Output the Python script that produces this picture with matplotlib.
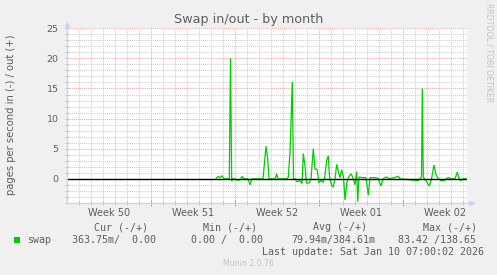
import matplotlib
matplotlib.use("Agg")
import matplotlib.pyplot as plt
import matplotlib.dates as mdates
from matplotlib.ticker import MultipleLocator, NullFormatter
from matplotlib.patches import Rectangle
from matplotlib.transforms import blended_transform_factory
from datetime import datetime, timedelta

# ---------------- data ----------------
title = "Swap in/out - by month"
y_label = "pages per second in (-) / out (+)"
series_name = "swap"
start_time = datetime(2025, 12, 8, 0, 20)
span_hours = 800

# hours since start_time, signed value: out (+) / in (-)
swap_hours = [298, 302, 306, 310, 314,
              322, 324.6, 327, 329.4, 331, 334,
              340, 346, 350, 354,
              362, 366, 370,
              392, 398, 401, 404,
              416, 419.4, 422,
              440, 442.6, 446, 450.6, 453,
              456, 460, 466, 470,
              472.6, 476, 479, 484, 488,
              492.6, 496, 500, 504, 508, 512, 515,
              519.4, 522.6, 525, 529, 532, 536,
              539.4, 543, 546, 549.4, 553,
              556, 560, 564, 568, 572, 576, 579.4, 581.4, 584,
              590, 598, 602.6, 606, 614, 622, 628, 632, 638, 646,
              662.6, 666,
              702, 706, 709, 710.6, 712.6, 715, 719.4, 724.6, 729,
              734, 737.4, 742, 748, 754, 758, 762.6, 768, 776,
              780.6, 784, 787.4, 792, 798]
swap_values = [0, 0.4, 0.2, 0.5, 0,
               0, 0, 20.1, -0.4, 0, 0,
               -0.2, -0.2, 0.4, 0,
               0, -1.0, 0,
               0, 5.4, 3.6, 0,
               0, 0.8, 0,
               0, 0.3, 4.3, 16.1, 0,
               0, -0.5, -0.3, -0.8,
               4.2, 2.1, -0.7, -0.7, 0,
               5.0, 1.6, 1.6, -0.7, -0.2, -0.6, 0,
               3.1, 3.8, 0.4, -1.0, -1.4, 0,
               2.4, 1.1, 0.2, 1.5, 0.3,
               -3.5, -0.5, 0.4, 0.8, 0.2, -1.0, 1.2, -3.8, 0.3,
               0.2, 0.2, -2.7, 0.2, 0.2, 0.1, -1.2, 0, 0.3, 0,
               0.4, 0,
               -0.3, 0, 0.3, 15.0, 0.3, 0, -0.5, -1.2, 0,
               2.3, 0.8, 0.1, -0.3, -0.3, 0, 0.2, 0, 0,
               1.1, 0.1, -0.3, 0, 0]

week_mondays = ["2025-12-08", "2025-12-15", "2025-12-22", "2025-12-29", "2026-01-05"]
week_labels = ["Week 50", "Week 51", "Week 52", "Week 01", "Week 02"]
y_ticks = [0, 5, 10, 15, 20, 25]

stat_headers = ["Cur (-/+)", "Min (-/+)", "Avg (-/+)", "Max (-/+)"]
stat_values = ["363.75m/  0.00", "0.00 /  0.00", "79.94m/384.61m", "83.42 /138.65"]
last_update = "Last update: Sat Jan 10 07:00:02 2026"
footer = "Munin 2.0.76"
watermark = "RRDTOOL / TOBI OETIKER"

# ---------------- style ----------------
W, H = 497, 275
BG = "#F0F0F0"
FONT_C = "#5E5E5E"
AXIS_C = "#C8D0F8"
GRID_C = "#CCCCCC"
MGRID_C = "#EEA8A8"
LINE_C = "#00CC00"

fig = plt.figure(figsize=(W / 100, H / 100), dpi=100, facecolor=BG)
L, R, T, B = 67, 467, 28.3, 203.3
ax = fig.add_axes([L / W, 1 - B / H, (R - L) / W, (B - T) / H])
ax.set_facecolor("white")

x0 = mdates.date2num(start_time)
x1 = mdates.date2num(start_time + timedelta(hours=span_hours))
xs = [mdates.date2num(start_time + timedelta(hours=h)) for h in swap_hours]

ax.plot(xs, swap_values, color=LINE_C, lw=0.9, zorder=3, solid_joinstyle="miter")
ax.axhline(0, color="black", lw=1.0, zorder=4)

ax.set_xlim(x0, x1)
ax.set_ylim(-4.07, 25)

# grid
ax.xaxis.set_major_locator(mdates.WeekdayLocator(byweekday=mdates.MO))
ax.xaxis.set_minor_locator(mdates.DayLocator())
ax.xaxis.set_major_formatter(NullFormatter())
ax.yaxis.set_major_locator(MultipleLocator(5))
ax.yaxis.set_minor_locator(MultipleLocator(1))
ax.set_yticks(y_ticks)
ax.set_yticklabels([str(v) for v in y_ticks])
ax.grid(which="minor", color=GRID_C, linestyle=(0, (1, 1)), lw=0.75, zorder=1)
ax.grid(which="major", color=MGRID_C, linestyle=(0, (1, 1)), lw=0.75, zorder=1)
ax.set_axisbelow(True)

ax.tick_params(axis="x", which="major", direction="inout", length=4, width=0.75,
               color="#E89090")
ax.tick_params(axis="x", which="minor", direction="inout", length=3, width=0.75,
               color="#C0C0C0")
ax.tick_params(axis="y", which="major", direction="inout", length=3, width=0.75,
               color="#C0C0C0", labelsize=6.8, labelcolor=FONT_C, pad=4.5)
ax.tick_params(axis="y", which="minor", direction="inout", length=3, width=0.75,
               color="#C0C0C0")
for sp in ax.spines.values():
    sp.set_visible(False)

# axis lines with arrows
ax.plot([0, 0], [0, 1 + 3 / (B - T)], transform=ax.transAxes, clip_on=False,
        color=AXIS_C, lw=0.9, zorder=5)
ax.plot([0, 1 + 4 / (R - L)], [0, 0], transform=ax.transAxes, clip_on=False,
        color=AXIS_C, lw=0.9, zorder=5)
ax.plot([0], [1 + 4.5 / (B - T)], marker="^", ms=4.2, color=AXIS_C,
        transform=ax.transAxes, clip_on=False, zorder=5, mec="none")
ax.plot([1 + 4.5 / (R - L)], [0], marker=">", ms=4.2, color=AXIS_C,
        transform=ax.transAxes, clip_on=False, zorder=5, mec="none")

# week labels centred in each week
tr = blended_transform_factory(ax.transData, ax.transAxes)
for monday, lab in zip(week_mondays, week_labels):
    c = mdates.date2num(datetime.fromisoformat(monday) + timedelta(days=3.5))
    ax.text(c, -9.6 / (B - T), lab, transform=tr, ha="center", va="center",
            fontsize=7, color=FONT_C)

# title and labels
fig.text(248.3 / W, 1 - 19 / H, title, ha="center", va="center",
         fontsize=9.2, color=FONT_C)
fig.text(11.5 / W, 1 - 115 / H, y_label, rotation=90, ha="center", va="center",
         fontsize=7.2, color=FONT_C)
fig.text(489 / W, 1 - 53 / H, watermark, rotation=270, ha="center", va="center",
         fontsize=5.6, color="#C4C4C4")

# legend
mono = "DejaVu Sans Mono"
fig.patches.append(Rectangle((14 / W, 1 - 243 / H), 6 / W, 6 / H,
                             transform=fig.transFigure, color=LINE_C, lw=0))
fig.text(26.7 / W, 1 - 240 / H, series_name, ha="left", va="center",
         fontsize=7.2, family=mono, color=FONT_C)
header_x = [94.3, 203.0, 313.3, 422.7]
value_x = [71.7, 190.7, 291.7, 397.7]
for hx, hs in zip(header_x, stat_headers):
    fig.text(hx / W, 1 - 227.3 / H, hs, ha="left", va="center",
             fontsize=7.2, family=mono, color=FONT_C)
for vx, vs in zip(value_x, stat_values):
    fig.text(vx / W, 1 - 240 / H, vs, ha="left", va="center",
             fontsize=7.2, family=mono, color=FONT_C)
fig.text(261.7 / W, 1 - 252 / H, last_update, ha="left", va="center",
         fontsize=7.2, family=mono, color=FONT_C)
fig.text(248 / W, 1 - 264 / H, footer, ha="center", va="center",
         fontsize=5.6, color="#C4C4C4")

fig.savefig("out.png", dpi=100, facecolor=BG)
